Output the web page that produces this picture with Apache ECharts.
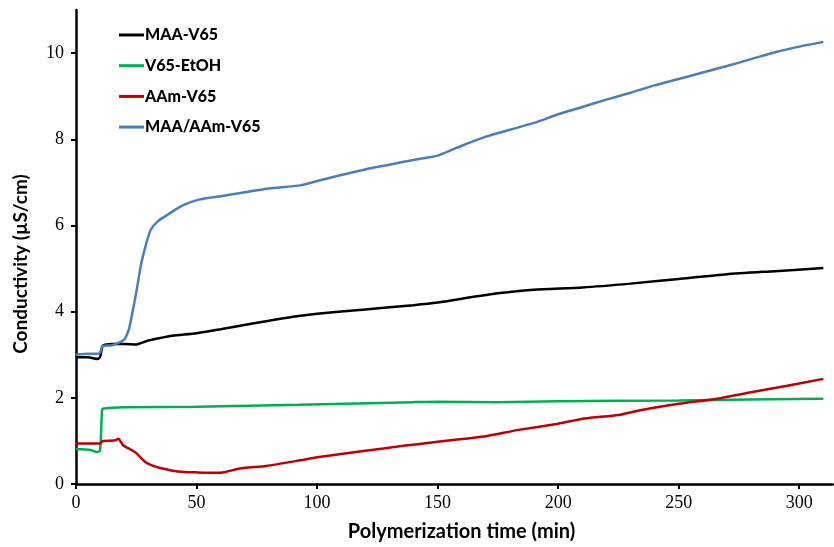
<!DOCTYPE html>
<html>
<head>
<meta charset="utf-8">
<script src="https://cdn.jsdelivr.net/npm/echarts@6/dist/echarts.min.js"></script>
<style>
  html, body { margin: 0; padding: 0; background: #fff; }
  #chart { width: 834px; height: 547px; }
</style>
</head>
<body>
<div id="chart"></div>
<script>
  // conductivity vs polymerization time
  var seriesNames = ['MAA-V65', 'V65-EtOH', 'AAm-V65', 'MAA/AAm-V65'];
  var seriesColors = ['#000000', '#00b050', '#c00000', '#4a7ebb'];
  var yTicks = [0, 2, 4, 6, 8, 10];

  var maaTime = [0, 5, 9, 10, 11, 12, 15, 20, 25, 30, 35, 40, 50, 60, 75, 90, 100, 120, 140, 150, 160, 176, 190, 210, 230, 250, 270, 290, 310];
  var maaVals = [2.94, 2.94, 2.90, 2.95, 3.2, 3.23, 3.25, 3.25, 3.24, 3.33, 3.39, 3.44, 3.50, 3.59, 3.74, 3.88, 3.95, 4.05, 4.15, 4.21, 4.30, 4.43, 4.51, 4.56, 4.65, 4.76, 4.87, 4.94, 5.01];

  var etohTime = [0, 6, 8.5, 10, 10.8, 11.5, 15, 20, 50, 93, 140, 150, 175, 200, 250, 310];
  var etohVals = [0.81, 0.79, 0.74, 0.78, 1.72, 1.75, 1.77, 1.78, 1.79, 1.84, 1.90, 1.91, 1.90, 1.92, 1.94, 1.98];

  var aamTime = [0, 10, 11, 16, 17.6, 19.5, 22, 25, 27, 29, 32, 35, 40, 45, 50, 58, 62, 68, 79, 93, 100, 120, 135, 150, 169, 183, 200, 211, 225, 234, 250, 266, 280, 295, 310];
  var aamVals = [0.94, 0.94, 1.0, 1.01, 1.05, 0.9, 0.82, 0.72, 0.6, 0.5, 0.42, 0.37, 0.31, 0.28, 0.27, 0.26, 0.28, 0.36, 0.42, 0.55, 0.62, 0.77, 0.88, 0.98, 1.10, 1.25, 1.40, 1.52, 1.60, 1.71, 1.86, 1.98, 2.13, 2.28, 2.44];

  var mixTime = [0, 5, 9, 10, 11, 15, 20, 22, 25, 27, 29, 31, 34, 38, 44, 51, 60, 70, 80, 93, 100, 110, 120, 130, 140, 150, 160, 170, 180, 190, 200, 210, 220, 230, 240, 250, 260, 270, 280, 290, 300, 310];
  var mixVals = [3.0, 3.02, 3.02, 3.05, 3.2, 3.22, 3.35, 3.6, 4.45, 5.1, 5.55, 5.9, 6.1, 6.25, 6.46, 6.6, 6.68, 6.77, 6.86, 6.93, 7.03, 7.17, 7.3, 7.41, 7.52, 7.62, 7.85, 8.06, 8.22, 8.38, 8.58, 8.75, 8.92, 9.08, 9.25, 9.40, 9.55, 9.70, 9.86, 10.02, 10.15, 10.26];

  function pairs(t, v) {
    return t.map(function (x, i) { return [x, v[i]]; });
  }

  var allData = [
    pairs(maaTime, maaVals),
    pairs(etohTime, etohVals),
    pairs(aamTime, aamVals),
    pairs(mixTime, mixVals)
  ];

  var chartdata = seriesNames.map(function (name, i) {
    return {
      name: name,
      type: 'line',
      data: allData[i],
      symbol: 'none',
      smooth: 0.2,
      lineStyle: { width: 2.5, color: seriesColors[i] },
      itemStyle: { color: seriesColors[i] }
    };
  });

  var chart = echarts.init(document.getElementById('chart'));

  var option = {
    animation: false,
    backgroundColor: '#fff',
    grid: { left: 76, right: 1, top: 10, bottom: 59 },
    legend: {
      orient: 'vertical',
      left: 114,
      top: 21,
      icon: 'rect',
      itemWidth: 25,
      itemHeight: 3,
      itemGap: 12.7,
      data: seriesNames,
      textStyle: { fontFamily: 'Lato', fontWeight: 900, fontSize: 16, lineHeight: 18, color: '#000', padding: [0, 0, 0, -4] }
    },
    xAxis: {
      type: 'value',
      min: 0,
      max: 314,
      interval: 50,
      name: 'Polymerization time (min)',
      nameLocation: 'middle',
      nameGap: 38,
      nameTextStyle: { fontFamily: 'Lato', fontWeight: 'bold', fontSize: 20, color: '#000', padding: [0, 0, 0, 14] },
      axisLine: { lineStyle: { color: '#000', width: 2.5 } },
      axisTick: { show: true, length: 5, lineStyle: { color: '#000', width: 2 } },
      axisLabel: { fontFamily: 'Liberation Serif', fontSize: 18, color: '#000', margin: 10, showMaxLabel: false },
      splitLine: { show: false }
    },
    yAxis: {
      type: 'value',
      min: 0,
      max: 11,
      interval: 2,
      name: 'Conductivity (\u00b5S/cm)',
      nameLocation: 'middle',
      nameGap: 46,
      nameTextStyle: { fontFamily: 'Lato', fontWeight: 'bold', fontSize: 19, color: '#000', padding: [0, 34, 0, 0] },
      axisLine: { show: true, lineStyle: { color: '#000', width: 2.5 } },
      axisTick: { show: true, length: 5, customValues: yTicks, lineStyle: { color: '#000', width: 2 } },
      axisLabel: { fontFamily: 'Liberation Serif', fontSize: 18, color: '#000', margin: 12, customValues: yTicks },
      splitLine: { show: false }
    },
    series: chartdata
  };

  chart.setOption(option);
</script>
</body>
</html>
